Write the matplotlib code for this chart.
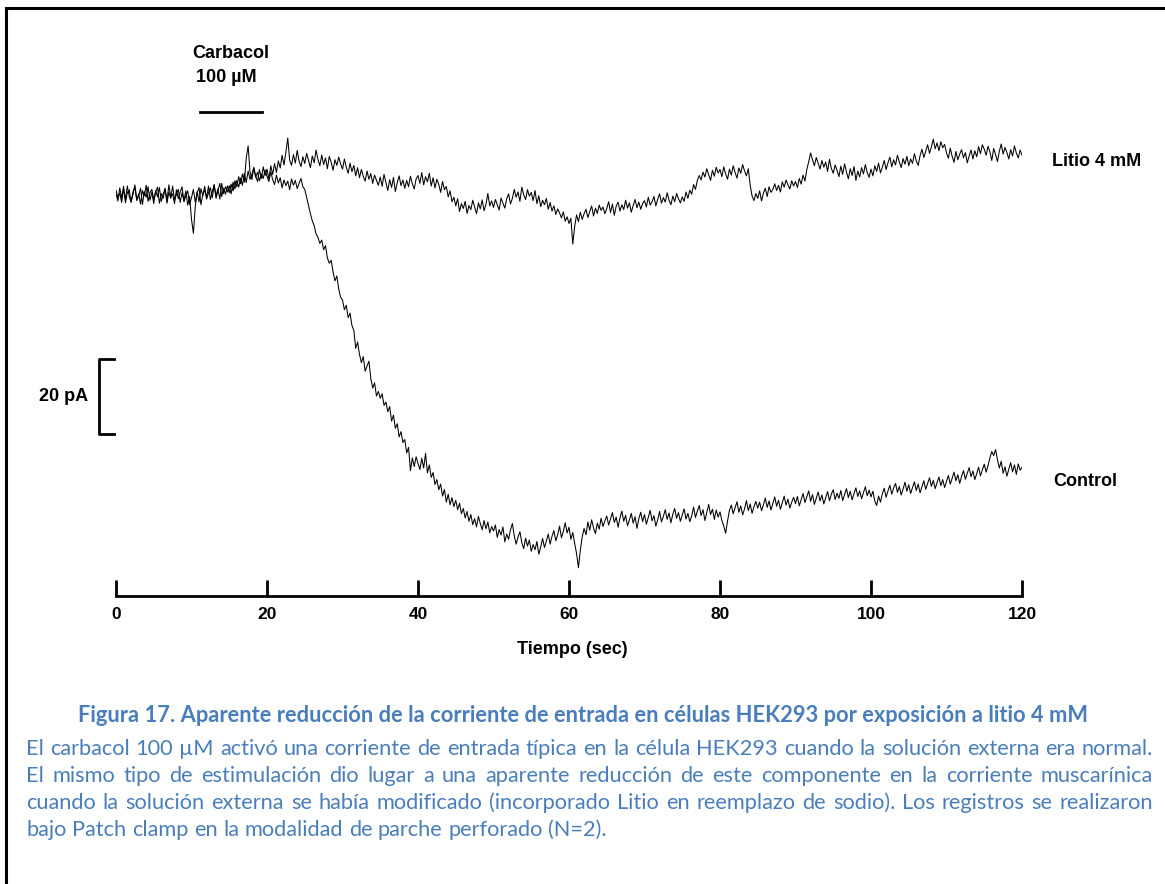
import numpy as np
import matplotlib
matplotlib.use("Agg")
import matplotlib.pyplot as plt
from matplotlib.lines import Line2D

# registro de corriente (pA), muestreado cada 0.25 s, 0 = linea base
# una fila = 5 s
paso_s = 0.25
litio = [
    0.4, -1.6, 1.9, -0.8, 2.3, -2.1, 0.6, 1.4, -1.9, 0.2, 2.7, -1.1, -0.3, 1.8, -2.5, 0.9, -0.6, 2.2, -1.4, 0.7,
    -2.3, 1.2, -0.5, 2.0, -1.7, 0.3, 1.6, -2.2, 0.8, -0.9, 2.4, -1.3, 0.1, 1.5, -2.0, 0.6, -1.5, 1.1, -2.7, -0.4,
    -6.5, -10.2, -3.1, 0.9, -1.8, 1.7, -0.2, 2.3, -1.1, 0.5, 1.9, -0.7, 2.6, -0.9, 1.2, 3.1, -0.4, 1.8, 0.2, 2.4,
    0.6, 2.9, 1.1, 3.8, 2.2, 4.9, 3.0, 5.6, 3.4, 9.8, 13.1, 6.2, 4.1, 7.3, 5.0, 3.6, 6.8, 4.4, 7.5, 5.2,
    6.9, 4.3, 7.8, 5.5, 8.4, 6.0, 9.1, 7.2, 10.6, 8.0, 11.4, 15.2, 9.3, 7.9, 10.8, 8.5, 11.9, 9.0, 7.6, 10.2,
    8.4, 11.1, 9.2, 7.3, 10.4, 8.6, 12.0, 9.5, 7.8, 10.7, 8.1, 9.9, 7.0, 10.3, 8.7, 6.6, 9.4, 7.9, 10.1, 8.3,
    6.9, 9.6, 7.4, 5.8, 8.5, 6.2, 7.9, 5.1, 7.3, 4.6, 6.8, 5.0, 3.7, 6.4, 4.2, 5.7, 3.1, 5.3, 3.9, 2.6,
    4.8, 2.3, 5.5, 3.4, 1.2, 4.1, 2.0, 4.7, 0.9, 3.3, 5.1, 2.5, 4.0, 1.8, 3.9, 2.2, 5.0, 3.0, 1.6, 4.3,
    5.2, 3.1, 6.0, 2.7, 4.9, 3.5, 5.8, 2.4, 4.6, 1.9, 4.2, 2.8, 0.7, 3.6, 1.4, 2.3, -0.5, 1.1, -1.8, -0.6,
    -2.9, -1.0, -4.4, -2.3, -3.6, -1.7, -4.9, -2.8, -3.9, -1.4, -3.2, -5.0, -2.1, -3.7, -1.3, -4.2, -2.5, 0.4, -2.9, -1.6,
    -3.3, -1.2, -2.6, -4.0, -0.8, -2.2, -3.5, -1.0, 0.3, -2.4, -0.9, 1.5, -0.6, 0.8, -1.7, 2.1, 0.1, -1.2, 1.4, -0.3,
    0.7, -1.5, 1.2, -2.3, -0.2, -3.1, -1.4, -2.6, -0.9, -3.8, -2.0, -4.3, -2.9, -5.2, -3.7, -4.8, -6.1, -4.5, -7.0, -5.8,
    -7.6, -6.2, -13.1, -8.4, -5.3, -7.1, -4.6, -6.5, -5.0, -3.8, -6.0, -4.4, -2.9, -5.6, -3.5, -4.9, -2.7, -4.1, -3.2, -5.0,
    -3.6, -1.8, -4.7, -2.4, -5.4, -3.0, -1.9, -4.3, -2.6, -3.9, -1.4, -3.5, -2.1, -4.6, -2.8, -1.2, -3.4, -1.9, -3.8, -2.3,
    -1.5, -3.2, -0.6, -2.7, -1.8, -0.4, -2.9, -1.1, 0.3, -2.2, -0.7, -1.9, 0.6, -1.4, -2.6, -0.3, -1.8, 0.4, -1.0, -2.1,
    -0.5, -1.7, 0.8, -0.9, 1.3, 0.2, 2.8, 1.5, 3.9, 5.2, 4.0, 6.1, 4.8, 7.0, 5.4, 3.9, 6.6, 5.0, 7.4, 5.9,
    6.8, 4.9, 7.5, 5.6, 4.2, 6.9, 5.3, 7.8, 6.0, 4.5, 7.2, 5.8, 8.1, 6.4, 5.1, 7.0, 2.6, -0.3, -1.5, 0.4,
    -0.9, 1.1, -1.6, 0.5, 1.8, -0.4, 2.2, 0.7, 1.5, 3.0, 1.2, 2.6, 0.8, 3.5, 2.1, 4.0, 2.7, 1.6, 3.8, 2.4,
    3.6, 2.0, 4.4, 2.9, 5.3, 3.7, 6.8, 8.9, 11.2, 9.4, 7.8, 10.0, 8.5, 6.9, 9.2, 7.4, 8.8, 6.3, 9.5, 7.1,
    5.8, 8.0, 6.6, 4.9, 7.7, 5.5, 8.3, 6.1, 4.3, 7.0, 5.2, 7.6, 3.9, 6.4, 4.8, 7.3, 5.6, 8.1, 6.0, 4.7,
    6.9, 5.1, 7.8, 6.3, 8.5, 5.9, 7.4, 9.2, 6.8, 8.6, 10.1, 7.5, 9.4, 8.0, 10.6, 8.8, 7.3, 9.7, 8.2, 10.3,
    7.8, 9.6, 8.4, 11.0, 9.1, 7.9, 10.5, 12.2, 10.0, 11.7, 13.4, 11.1, 12.8, 14.9, 12.3, 13.9, 11.8, 14.2, 12.6, 13.5,
    11.2, 9.8, 12.5, 10.3, 8.7, 11.6, 9.4, 10.9, 12.1, 9.9, 11.3, 8.6, 10.4, 12.0, 9.6, 11.8, 10.2, 12.9, 11.0, 13.4,
    12.2, 10.6, 13.0, 11.5, 9.2, 12.4, 10.8, 8.9, 11.7, 13.6, 10.9, 12.7, 11.3, 9.6, 12.1, 10.4, 13.1, 11.2, 9.9, 12.0,
    10.6,
]
control = [
    1.3, -0.8, 0.5, -2.0, 1.7, -1.2, 2.4, -0.4, -1.9, 0.9, 2.0, -1.5, 0.3, -2.4, 1.2, -0.2, 2.6, -1.7, 0.6, 1.5,
    -1.2, 0.8, 2.1, -2.2, 0.4, -0.9, 1.8, -1.6, 2.7, -0.5, 0.3, -2.3, 1.4, -1.0, 0.7, 2.2, -1.8, -0.2, 1.1, -2.5,
    -0.7, 1.5, -1.9, 0.6, 2.0, -2.6, 0.2, 1.3, -0.8, 2.4, -1.2, 0.9, 2.8, -0.3, 1.6, -1.1, 3.1, 0.4, 2.2, 0.8,
    2.5, 0.3, 3.4, 1.6, 3.9, 2.1, 4.5, 2.6, 5.8, 3.3, 6.4, 4.2, 5.5, 7.3, 4.7, 6.1, 3.8, 5.6, 4.4, 6.7,
    5.0, 3.6, 6.2, 4.1, 2.8, 5.3, 3.2, 4.6, 1.9, 4.0, 2.5, 3.7, 1.4, 4.3, 2.6, 3.9, 1.7, 3.1, 4.4, 2.2,
    1.5, -0.6, -2.8, -5.0, -6.9, -8.2, -10.4, -11.3, -12.9, -12.0, -14.6, -13.5, -16.8, -18.2, -17.4, -20.5, -22.9, -21.6, -25.1, -27.3,
    -28.0, -30.6, -29.4, -32.7, -31.5, -34.8, -36.1, -40.9, -39.2, -42.5, -44.7, -43.1, -47.0, -45.6, -44.3, -48.9, -51.5, -50.1, -53.6, -52.4,
    -54.2, -53.0, -56.1, -55.2, -57.8, -56.4, -60.3, -58.7, -62.2, -61.0, -64.5, -63.1, -66.0, -65.2, -68.8, -67.3, -73.5, -70.1, -72.4, -69.8,
    -71.6, -73.2, -70.2, -72.8, -68.9, -74.1, -72.0, -75.3, -74.0, -77.2, -75.9, -78.6, -77.1, -80.3, -78.5, -81.9, -79.8, -82.6, -80.7, -83.1,
    -81.4, -83.9, -82.2, -85.0, -83.6, -86.1, -84.4, -87.0, -85.2, -87.9, -86.3, -88.5, -85.7, -87.6, -89.3, -86.8, -89.0, -87.2, -90.1, -88.4,
    -89.6, -88.0, -91.3, -89.2, -90.7, -88.5, -92.5, -90.4, -91.8, -89.3, -87.6, -90.9, -93.1, -91.2, -89.8, -92.7, -94.3, -91.5, -93.6, -92.0,
    -95.0, -93.2, -94.6, -92.4, -95.8, -93.9, -91.6, -94.0, -92.3, -90.4, -93.1, -91.0, -89.5, -92.2, -90.6, -88.3, -91.4, -89.7, -87.4, -90.1,
    -88.6, -91.8, -90.0, -92.9, -95.6, -99.4, -94.7, -91.2, -88.9, -90.6, -87.2, -89.4, -86.6, -88.8, -90.3, -87.5, -89.1, -86.2, -88.4, -86.9,
    -85.6, -88.0, -86.4, -84.7, -87.3, -85.9, -88.6, -86.1, -84.3, -87.0, -85.4, -88.2, -86.7, -84.9, -87.5, -85.8, -88.9, -86.3, -84.6, -87.1,
    -85.2, -87.8, -86.0, -84.1, -86.9, -85.5, -88.3, -86.6, -84.4, -87.2, -85.7, -83.9, -86.5, -84.8, -87.4, -85.1, -83.6, -86.2, -84.7, -87.0,
    -85.3, -83.7, -86.4, -84.9, -87.1, -85.6, -83.2, -86.0, -84.3, -82.8, -85.5, -83.9, -86.8, -84.6, -82.5, -85.2, -83.8, -86.5, -84.0, -85.9,
    -84.5, -86.8, -88.3, -90.2, -86.9, -84.1, -82.7, -85.0, -83.4, -81.8, -84.6, -82.9, -85.3, -83.7, -81.5, -84.2, -82.4, -84.9, -83.1, -81.7,
    -83.5, -81.9, -84.2, -82.6, -80.8, -83.3, -81.6, -84.0, -82.2, -80.5, -83.0, -81.4, -83.8, -82.0, -80.3, -82.7, -81.1, -83.5, -81.9, -80.6,
    -82.3, -80.4, -82.9, -81.2, -79.6, -82.0, -80.5, -78.9, -81.7, -79.9, -82.5, -80.8, -79.2, -81.6, -80.0, -82.4, -80.7, -79.1, -81.5, -79.8,
    -78.6, -81.2, -79.5, -80.9, -78.8, -81.5, -79.9, -78.3, -80.7, -79.0, -81.3, -79.6, -78.1, -80.4, -78.9, -81.0, -79.4, -77.8, -80.2, -78.7,
    -80.5, -79.0, -81.6, -82.8, -80.3, -81.9, -79.7, -78.2, -80.6, -78.9, -77.4, -79.8, -78.1, -76.9, -79.3, -77.7, -80.0, -78.4, -76.6, -79.0,
    -77.3, -79.6, -78.0, -76.5, -78.8, -77.1, -79.4, -77.8, -76.2, -78.5, -76.9, -75.4, -77.7, -76.1, -78.3, -76.7, -75.2, -77.5, -75.9, -78.0,
    -76.4, -74.8, -77.1, -75.5, -73.9, -76.2, -74.6, -76.9, -75.0, -73.5, -75.8, -74.2, -72.7, -75.1, -73.6, -75.9, -74.3, -72.6, -74.9, -73.3,
    -71.8, -73.9, -72.2, -70.1, -68.4, -69.5, -67.9, -70.6, -72.8, -71.0, -74.2, -72.5, -75.0, -73.1, -71.4, -73.8, -72.0, -74.5, -71.7, -73.4,
    -72.6,
]
assert len(litio) == 481 and len(control) == 481

carbacol_inicio, carbacol_fin = 11.1, 19.3
escala_pa = 20
ticks_x = [0, 20, 40, 60, 80, 100, 120]

titulo = ("Figura 17. Aparente reducción de la corriente de entrada en células "
          "HEK293 por exposición a litio 4 mM")
parrafo = [
    "El carbacol 100 µM activó una corriente de entrada típica en la célula HEK293 cuando la solución externa era normal.",
    "El mismo tipo de estimulación dio lugar a una aparente reducción de este componente en la corriente muscarínica",
    "cuando la solución externa se había modificado (incorporado Litio en reemplazo de sodio). Los registros se realizaron",
    "bajo Patch clamp en la modalidad de parche perforado (N=2).",
]

W, H = 1165, 884
def fx(px):
    return px / W
def fy(py):
    return 1 - py / H

fig = plt.figure(figsize=(W / 100, H / 100), dpi=100)
fig.patch.set_facecolor("white")

# marco
fig.add_artist(Line2D([fx(6), 1.0], [fy(8), fy(8)], color="black", lw=2.2))
fig.add_artist(Line2D([fx(6), fx(6)], [fy(8), 0.0], color="black", lw=2.2))

ax = fig.add_axes([fx(116), fy(596), fx(1022) - fx(116), fy(100) - fy(596)])
ax.set_xlim(0, 120)
ax.set_ylim((195 - 596) / 3.75, (195 - 100) / 3.75)

ax.plot(np.arange(len(control)) * paso_s, control, color="black", lw=0.75)
ax.plot(np.arange(len(litio)) * paso_s, litio, color="black", lw=0.75)

for s in ["top", "right", "left"]:
    ax.spines[s].set_visible(False)
ax.spines["bottom"].set_linewidth(2)
ax.set_yticks([])
narrow = ["Liberation Sans Narrow", "Liberation Sans", "DejaVu Sans"]
ax.set_xticks(ticks_x)
ax.set_xticklabels([str(t) for t in ticks_x], family=narrow, fontweight="bold", fontsize=12.5)
ax.tick_params(axis="x", direction="in", length=11.5, width=2, pad=8)

# barra de carbacol y escala
ax.plot([carbacol_inicio, carbacol_fin], [22.1, 22.1], color="black", lw=2, clip_on=False)
y_top = (195 - 359) / 3.75
ax.plot([-0.26, -2.25, -2.25, -0.26], [y_top, y_top, y_top - escala_pa, y_top - escala_pa],
        color="black", lw=2, clip_on=False)

bold = dict(family=["Liberation Sans", "DejaVu Sans"], fontweight="bold", fontsize=13, color="black")
fig.text(fx(231), fy(54), "Carbacol", ha="center", va="center", **bold)
fig.text(fx(226), fy(78), "100 µM", ha="center", va="center", **bold)
fig.text(fx(88), fy(397), f"{escala_pa} pA", ha="right", va="center", **bold)
fig.text(fx(1052), fy(162), "Litio 4 mM", ha="left", va="center", **bold)
fig.text(fx(1053), fy(482), "Control", ha="left", va="center", **bold)
fig.text(fx(572), fy(650), "Tiempo (sec)", ha="center", va="center", **bold)

# pie de figura
azul = "#4a7ebb"
cap_font = ["Lato", "DejaVu Sans"]
r = fig.canvas.get_renderer()

def ancho(txt, size, weight="normal"):
    t = fig.text(0, 0, txt, fontsize=size, family=cap_font, fontweight=weight)
    w = t.get_window_extent(r).width
    t.remove()
    return w

s_tit = 10 * 1010 / ancho(titulo, 10, "bold")
fig.text(fx(583), fy(715), titulo, ha="center", va="center", fontsize=s_tit,
         family=cap_font, fontweight="bold", color=azul)

s_par = 10 * 1122 / ancho(parrafo[0], 10)
x0, x1 = 26, 1153
for i, linea in enumerate(parrafo):
    y = 749 + 27 * i
    palabras = linea.split(" ")
    anchos = [ancho(p, s_par) for p in palabras]
    if i < len(parrafo) - 1:
        gap = (x1 - x0 - sum(anchos)) / (len(palabras) - 1)
    else:
        gap = ancho("a a", s_par) - ancho("aa", s_par)
    x = x0
    for p, w in zip(palabras, anchos):
        fig.text(fx(x), fy(y), p, ha="left", va="center", fontsize=s_par,
                 family=cap_font, color=azul)
        x += w + gap

fig.savefig("out.png", dpi=100)
